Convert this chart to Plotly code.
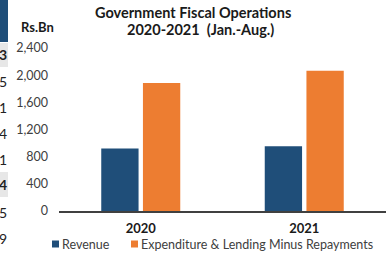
import plotly.graph_objects as go

years = ["2020", "2021"]
revenue = [922, 952]
expenditure = [1883, 2064]
series_names = ["Revenue", "Expenditure & Lending Minus Repayments"]
y_ticks = [0, 400, 800, 1200, 1600, 2000, 2400]

BLUE = "#1F4E79"
ORANGE = "#ED7D31"
TXT = "#404040"
FONT = "Lato"

W, H = 386, 260
ML, MR, MT, MB = 59, 0, 48, 49
PW, PH = W - ML - MR, H - MT - MB


def px(x):
    return (x - ML) / PW


def py(y):
    return (H - MB - y) / PH


fig = go.Figure()
fig.add_trace(go.Bar(x=years, y=revenue, name=series_names[0], marker_color=BLUE,
                     marker_line_width=0, showlegend=False))
fig.add_trace(go.Bar(x=years, y=expenditure, name=series_names[1], marker_color=ORANGE,
                     marker_line_width=0, showlegend=False))

annotations = [
    dict(text="<b>Government Fiscal Operations</b>", x=px(193), y=py(13), xref="paper", yref="paper",
         showarrow=False, xanchor="center", yanchor="middle", font=dict(size=14.5, color="#1a1a1a", family=FONT)),
    dict(text="<b>2020-2021  (Jan.-Aug.)</b>", x=px(200), y=py(29), xref="paper", yref="paper",
         showarrow=False, xanchor="center", yanchor="middle", font=dict(size=14.5, color="#1a1a1a", family=FONT)),
    dict(text="<b>Rs.Bn</b>", x=px(19), y=py(27), xref="paper", yref="paper",
         showarrow=False, xanchor="left", yanchor="middle", font=dict(size=13, color="#1a1a1a", family=FONT)),
]

# manual legend
shapes = []
leg_items = [(52, series_names[0], BLUE), (131, series_names[1], ORANGE)]
for x0, name, col in leg_items:
    shapes.append(dict(type="rect", xref="paper", yref="paper", x0=px(x0), x1=px(x0 + 7),
                       y0=py(247.5), y1=py(240.5), fillcolor=col, line_width=0))
    annotations.append(dict(text=name, x=px(x0 + 8), y=py(244.5), xref="paper", yref="paper",
                            showarrow=False, xanchor="left", yanchor="middle",
                            font=dict(size=12.5, color=TXT, family=FONT)))

# cropped page fragments on the left edge
shapes.append(dict(type="rect", xref="paper", yref="paper", x0=px(-2), x1=px(8), y0=py(42), y1=py(-2),
                   fillcolor=BLUE, line_width=0, layer="below"))
for y0, y1 in [(43, 67), (172, 197)]:
    shapes.append(dict(type="rect", xref="paper", yref="paper", x0=px(-2), x1=px(8), y0=py(y1), y1=py(y0),
                       fillcolor="#E7E7E7", line_width=0, layer="below"))
frags = [("<b>3</b>", 55), ("5", 81), ("1", 107), ("4", 133), ("1", 159), ("<b>4</b>", 184), ("5", 212), ("9", 238)]
for t, yy in frags:
    annotations.append(dict(text=t, x=px(8.5), y=py(yy), xref="paper", yref="paper", showarrow=False,
                            xanchor="right", yanchor="middle", font=dict(size=14, color="#222", family=FONT)))

fig.update_layout(
    width=W, height=H,
    margin=dict(l=ML, r=MR, t=MT, b=MB, pad=0),
    paper_bgcolor="white", plot_bgcolor="white",
    barmode="group", bargap=0.49, bargroupgap=0.105,
    font=dict(family=FONT, size=12, color=TXT),
    annotations=annotations, shapes=shapes,
    showlegend=False,
)
fig.update_xaxes(type="category", showline=True, linecolor=TXT, linewidth=1.5, ticks="",
                 tickfont=dict(size=13, color="#1a1a1a", family=FONT),
                 tickvals=years, ticktext=["<b>%s</b>" % y for y in years], ticklabelstandoff=5)
fig.update_yaxes(range=[0, 2400], tickvals=y_ticks, tickformat=",d", showgrid=False, zeroline=False,
                 showline=False, ticks="", ticklabelstandoff=10, tickfont=dict(size=12.5, color=TXT, family=FONT))

fig.write_html("out.html", config={"displayModeBar": False},
               post_script="document.body.style.margin='0';")
